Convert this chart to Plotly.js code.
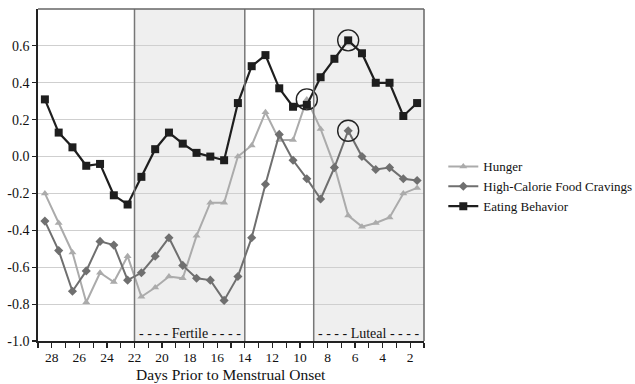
<!DOCTYPE html>
<html>
<head>
<meta charset="utf-8">
<script src="https://cdn.plot.ly/plotly-3.0.1.min.js"></script>
<style>html,body{margin:0;padding:0;background:#fff;}#chart{width:635px;height:384px;}</style>
</head>
<body>
<div id="chart"></div>
<script>
// Day positions (midpoints between day ticks), days prior to menstrual onset
const days = [28.5, 27.5, 26.5, 25.5, 24.5, 23.5, 22.5, 21.5, 20.5, 19.5, 18.5, 17.5, 16.5, 15.5,
              14.5, 13.5, 12.5, 11.5, 10.5, 9.5, 8.5, 7.5, 6.5, 5.5, 4.5, 3.5, 2.5, 1.5];

const hunger = [-0.20, -0.36, -0.52, -0.79, -0.63, -0.68, -0.54, -0.76, -0.71, -0.65, -0.66, -0.43, -0.25, -0.25,
                0.00, 0.06, 0.24, 0.09, 0.09, 0.31, 0.15, -0.05, -0.32, -0.38, -0.36, -0.33, -0.20, -0.17];

const cravings = [-0.35, -0.51, -0.73, -0.62, -0.46, -0.48, -0.67, -0.63, -0.54, -0.44, -0.59, -0.66, -0.67, -0.78,
                  -0.65, -0.44, -0.15, 0.12, -0.02, -0.12, -0.23, -0.06, 0.14, 0.00, -0.07, -0.06, -0.12, -0.13];

const eating = [0.31, 0.13, 0.05, -0.05, -0.04, -0.21, -0.26, -0.11, 0.04, 0.13, 0.07, 0.02, 0.00, -0.02,
                0.29, 0.49, 0.55, 0.37, 0.27, 0.28, 0.43, 0.53, 0.63, 0.56, 0.40, 0.40, 0.22, 0.29];

const seriesNames = ['Hunger', 'High-Calorie Food Cravings', 'Eating Behavior'];
const xTitle = 'Days Prior to Menstrual Onset';

const xTickVals = [29, 28, 27, 26, 25, 24, 23, 22, 21, 20, 19, 18, 17, 16, 15, 14, 13, 12, 11, 10, 9, 8, 7, 6, 5, 4, 3, 2, 1];
const xTickText = ['', '28', '', '26', '', '24', '', '22', '', '20', '', '18', '', '16', '', '14', '', '12', '', '10', '', '8', '', '6', '', '4', '', '2', ''];

const yTickVals = [-1.0, -0.8, -0.6, -0.4, -0.2, 0.0, 0.2, 0.4, 0.6];
const yTickText = ['-1.0', '-0.8', '-0.6', '-0.4', '-0.2', '0.0', '0.2', '0.4', '0.6'];

// Phase boundaries and labels
const phaseLines = [22, 14, 9];
const shadedPhases = [[22, 14], [9, 1]];
const phaseLabels = [{name: 'Fertile', from: 22, to: 14}, {name: 'Luteal', from: 9, to: 1}];

// Highlighted peaks (index into days)
const hungerPeak = 19;
const cravingsPeak = 22;
const eatingPeak = 22;

const serif = 'Liberation Serif';
const ink = '#111';

const traces = [
  {
    x: days, y: hunger, name: seriesNames[0], type: 'scatter', mode: 'lines+markers',
    line: {color: '#ababab', width: 2},
    marker: {symbol: 'triangle-up', size: 7, color: '#ababab'}
  },
  {
    x: days, y: cravings, name: seriesNames[1], type: 'scatter', mode: 'lines+markers',
    line: {color: '#6f6f6f', width: 2},
    marker: {symbol: 'diamond', size: 7, color: '#6f6f6f'}
  },
  {
    x: days, y: eating, name: seriesNames[2], type: 'scatter', mode: 'lines+markers',
    line: {color: '#1e1e1e', width: 2.2},
    marker: {symbol: 'square', size: 8, color: '#1e1e1e'}
  },
  {
    x: [days[hungerPeak], days[cravingsPeak], days[eatingPeak]],
    y: [hunger[hungerPeak], cravings[cravingsPeak], eating[eatingPeak]],
    type: 'scatter', mode: 'markers', showlegend: false, hoverinfo: 'skip',
    marker: {symbol: 'circle-open', size: 21, color: '#222', line: {width: 1.4, color: '#222'}}
  }
];

const shapes = [];
shadedPhases.forEach(p => {
  shapes.push({type: 'rect', xref: 'x', yref: 'paper', x0: p[0], x1: p[1], y0: 0, y1: 1,
               fillcolor: '#efefef', line: {width: 0}, layer: 'below'});
});
phaseLines.forEach(d => {
  shapes.push({type: 'line', xref: 'x', yref: 'paper', x0: d, x1: d, y0: 0, y1: 1,
               line: {color: '#777', width: 1.5}, layer: 'above'});
});
// top and right frame
shapes.push({type: 'line', xref: 'paper', yref: 'paper', x0: 0, x1: 1, y0: 1, y1: 1, line: {color: '#666', width: 1.5}});
shapes.push({type: 'line', xref: 'paper', yref: 'paper', x0: 1, x1: 1, y0: 0, y1: 1, line: {color: '#666', width: 1.5}});

const annotations = phaseLabels.map(p => ({
  x: (p.from + p.to) / 2, y: -0.962, xref: 'x', yref: 'y',
  text: '- - - - ' + p.name + ' - - - -', showarrow: false,
  font: {family: serif, size: 14, color: ink}
}));
annotations.push({
  x: 0.5, y: 0, xref: 'paper', yref: 'paper', xanchor: 'center', yanchor: 'middle',
  yshift: -33.5, text: xTitle, showarrow: false,
  font: {family: serif, size: 15.5, color: ink}
});

const layout = {
  width: 635, height: 384,
  margin: {l: 38, r: 211, t: 9, b: 43, pad: 0, autoexpand: false},
  paper_bgcolor: '#fff', plot_bgcolor: '#fff',
  font: {family: serif, color: ink},
  showlegend: true,
  legend: {x: 1.05, y: 0.571, xanchor: 'left', yanchor: 'top',
           font: {family: serif, size: 13, color: ink}, bgcolor: 'rgba(0,0,0,0)'},
  xaxis: {
    range: [29, 1], tickmode: 'array', tickvals: xTickVals, ticktext: xTickText,
    ticks: 'outside', ticklen: 5, tickwidth: 1.2, tickcolor: '#222',
    showline: true, linecolor: '#222', linewidth: 1.8, showgrid: false, zeroline: false,
    ticklabelstandoff: -2,
    tickfont: {family: serif, size: 13.5, color: ink}
  },
  yaxis: {
    range: [-1.0, 0.8], tickmode: 'array', tickvals: yTickVals, ticktext: yTickText,
    ticks: 'outside', ticklen: 4, tickwidth: 1.2, tickcolor: '#222',
    showline: true, linecolor: '#222', linewidth: 1.8,
    showgrid: true, gridcolor: '#cfcfcf', gridwidth: 1.2, zeroline: false,
    tickfont: {family: serif, size: 14, color: ink}
  },
  shapes: shapes,
  annotations: annotations
};

Plotly.newPlot('chart', traces, layout, {staticPlot: true, displayModeBar: false});
</script>
</body>
</html>
